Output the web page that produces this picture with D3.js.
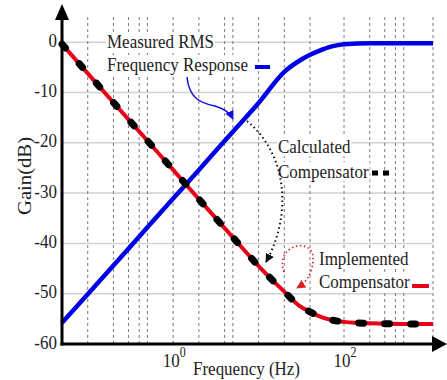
<!DOCTYPE html>
<html><head><meta charset="utf-8">
<script src="https://cdn.jsdelivr.net/npm/d3@7"></script>
<style>
body{margin:0;background:#fff}
svg{display:block}
text{font-family:"Liberation Serif","Times New Roman",serif;fill:#222}
</style>
</head><body>
<svg id="c" width="447" height="380"></svg>
<script>
// ---- data ----
const freq        = [0.05, 0.1, 0.2, 0.5, 1, 2, 5, 10, 20, 30, 40, 50, 70, 100, 200, 500, 1100];
const measured    = [-55.8, -50.1, -44.4, -36.8, -31.1, -25.4, -17.8, -12.1, -5.9, -3.7, -2.5, -1.8, -0.9, -0.4, -0.2, -0.2, -0.2];
const compensator = [-0.4, -6.2, -12.0, -19.6, -25.4, -31.2, -38.8, -44.5, -49.6, -52.4, -53.6, -54.4, -55.2, -55.6, -55.9, -56.0, -56.0];
const gainTicks   = [0, -10, -20, -30, -40, -50, -60];
const freqTicks   = [1, 100];
const freqTickExp = ["0", "2"];
const freqGrid    = [0.1, 0.2, 0.3, 0.4, 0.5, 1, 2, 4, 5, 10, 20, 40, 100, 200, 300, 400, 500, 1100];
const texts = {
  measured: ["Measured RMS", "Frequency Response"],
  calc: ["Calculated", "Compensator"],
  impl: ["Implemented", "Compensator"],
  xTitle: "Frequency (Hz)",
  yTitle: "Gain(dB)"
};

const svg = d3.select("#c");
const x = d3.scaleLog().domain([0.05, 1100]).range([62, 433]);
const y = d3.scaleLinear().domain([-60, 5]).range([344, 17]);
const SY = 1.15, FS = 17;

// defs: arrowheads
const defs = svg.append("defs");
function marker(id, color, size){
  defs.append("marker").attr("id", id).attr("viewBox", "0 0 10 10")
    .attr("refX", 9).attr("refY", 5).attr("markerWidth", size).attr("markerHeight", size)
    .attr("markerUnits", "userSpaceOnUse").attr("orient", "auto")
    .append("path").attr("d", "M0,0 L10,5 L0,10 z").attr("fill", color);
}
marker("aBlue", "#1010e0", 9);
marker("aBlack", "#111", 9);
marker("aRed", "#e02020", 9);

// grid
const grid = svg.append("g");
grid.selectAll(".hg").data(gainTicks.filter(d => d !== -60)).join("line")
  .attr("x1", x.range()[0]).attr("x2", x.range()[1])
  .attr("y1", d => y(d)).attr("y2", d => y(d))
  .attr("stroke", "#d2d2d2").attr("stroke-width", 1.5);
grid.selectAll(".vg").data(freqGrid).join("line")
  .attr("x1", d => x(d)).attr("x2", d => x(d))
  .attr("y1", y(5)).attr("y2", y(-60))
  .attr("stroke", "#7a7a7a").attr("stroke-width", 1).attr("stroke-dasharray", "3,3");

// curves
const pts = (arr) => freq.map((f, i) => [f, arr[i]]);
const line = d3.line().x(d => x(d[0])).y(d => y(d[1])).curve(d3.curveMonotoneX);
svg.append("path").attr("d", line(pts(measured))).attr("fill", "none")
  .attr("stroke", "#0000e6").attr("stroke-width", 4.5);
svg.append("path").attr("d", line(pts(compensator))).attr("fill", "none")
  .attr("stroke", "#e8001a").attr("stroke-width", 4);
svg.append("path").attr("d", line(pts(compensator))).attr("fill", "none")
  .attr("stroke", "#000").attr("stroke-width", 7).attr("stroke-linecap", "round")
  .attr("stroke-dasharray", "5,21");

// axes
const ax = svg.append("g");
ax.append("line").attr("x1", 62).attr("x2", 62).attr("y1", 18).attr("y2", 345.5)
  .attr("stroke", "#000").attr("stroke-width", 3);
ax.append("line").attr("x1", 60.5).attr("x2", 434).attr("y1", 344).attr("y2", 344)
  .attr("stroke", "#000").attr("stroke-width", 3);
ax.append("path").attr("d", "M62,4 L69,20 L55,20 Z").attr("fill", "#000");
ax.append("path").attr("d", "M447,344 L432,336 L432,352 Z").attr("fill", "#000");

// text helper (vertically stretched like the reference)
function label(px, py, str, opt = {}){
  const g = svg.append("g").attr("transform", `translate(${px},${py}) scale(1,${SY})` + (opt.rotate ? ` rotate(${opt.rotate})` : ""));
  const t = g.append("text").attr("x", 0).attr("y", 0)
    .attr("font-size", opt.size || FS).attr("text-anchor", opt.anchor || "start").text(str);
  if (opt.bg){
    const b = t.node().getBBox();
    g.insert("rect", "text").attr("x", b.x - 1).attr("y", b.y + 1).attr("width", b.width + 2)
      .attr("height", b.height - 2).attr("fill", "#fff");
  }
  return t;
}

// y tick labels
gainTicks.forEach(v => label(57, y(v) + 4.5, String(v), {anchor: "end"}));
// x tick labels
freqTicks.forEach((f, i) => {
  const t = label(x(f) + 1, 367, "", {anchor: "middle"});
  t.append("tspan").text("10");
  t.append("tspan").attr("font-size", 12).attr("dy", -9).text(freqTickExp[i]);
});
label(193, 375, texts.xTitle);
label(31, 176, texts.yTitle, {anchor: "middle", rotate: -90, size: 18});

// annotations
label(107, 48, texts.measured[0], {bg: true});
label(107, 71, texts.measured[1], {bg: true});
svg.append("line").attr("x1", 255).attr("x2", 270).attr("y1", 67).attr("y2", 67)
  .attr("stroke", "#0000e6").attr("stroke-width", 4);

label(278, 153, texts.calc[0], {bg: true});
label(278, 178, texts.calc[1], {bg: true});
svg.append("line").attr("x1", 372).attr("x2", 389).attr("y1", 173).attr("y2", 173)
  .attr("stroke", "#000").attr("stroke-width", 5).attr("stroke-dasharray", "6,5");

label(319, 265, texts.impl[0], {bg: true});
label(319, 288, texts.impl[1], {bg: true});
svg.append("line").attr("x1", 412).attr("x2", 429).attr("y1", 286).attr("y2", 286)
  .attr("stroke", "#e8001a").attr("stroke-width", 4);

// pointer arrows
svg.append("path").attr("d", "M187,77 C189,98 200,103 215,106 C225,109 230,113 233,119")
  .attr("fill", "none").attr("stroke", "#1010e0").attr("stroke-width", 1.5)
  .attr("marker-end", "url(#aBlue)");
svg.append("path").attr("d", "M247,121 C288,155 292,215 266,262")
  .attr("fill", "none").attr("stroke", "#111").attr("stroke-width", 2)
  .attr("stroke-dasharray", "1.5,3").attr("marker-end", "url(#aBlack)");
svg.append("path").attr("d", "M284,272 C274,244 315,236 313,260 C312,276 305,283 297,288")
  .attr("fill", "none").attr("stroke", "#e02020").attr("stroke-width", 1.6)
  .attr("stroke-dasharray", "1.5,2.5").attr("marker-end", "url(#aRed)");
</script>
</body></html>
